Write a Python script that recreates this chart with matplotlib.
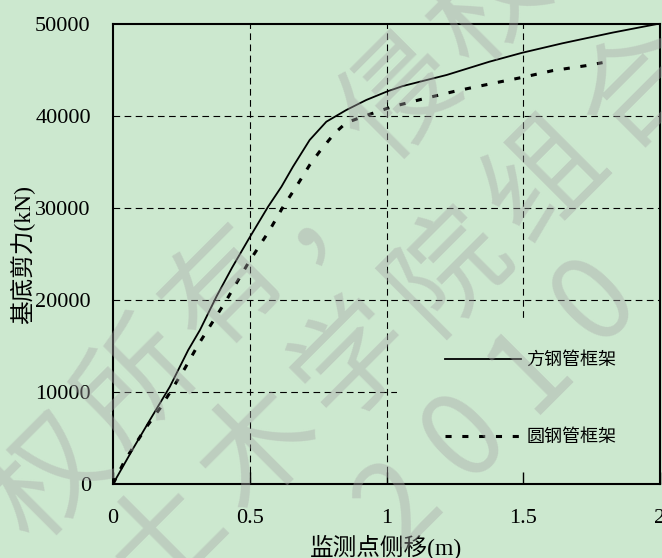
import matplotlib
matplotlib.use("Agg")
import matplotlib.pyplot as plt
from matplotlib.patches import Rectangle

# ---- data ----
square_x = [0, 0.074, 0.135, 0.208, 0.275, 0.318, 0.378, 0.435, 0.494, 0.567, 0.616,
            0.658, 0.719, 0.780, 0.853, 0.926, 1.0, 1.06, 1.22, 1.376, 1.497, 1.643,
            1.826, 1.99]
square_y = [0, 3880, 6960, 10580, 14560, 16740, 20360, 23500, 26520, 30140, 32320,
            34490, 37390, 39380, 40650, 41740, 42640, 43260, 44460, 45900, 46880, 47900,
            49060, 50000]
circle_x = [0, 0.044, 0.123, 0.172, 0.214, 0.263, 0.311, 0.415, 0.494, 0.573, 0.622,
            0.670, 0.719, 0.755, 0.810, 0.853, 0.914, 0.974, 1.02, 1.127, 1.254, 1.400,
            1.497, 1.607, 1.729, 1.79]
circle_y = [0, 2610, 6230, 8230, 10220, 12580, 15110, 20000, 23990, 27610, 30140,
            32320, 34670, 36120, 38120, 39270, 39930, 40550, 41000, 41810, 42720, 43620,
            44200, 44930, 45470, 45800]
series_labels = ["方钢管框架", "圆钢管框架"]
x_ticks = [0, 0.5, 1, 1.5, 2]
x_tick_labels = ["0", "0.5", "1", "1.5", "2"]
y_ticks = [0, 10000, 20000, 30000, 40000, 50000]
y_tick_labels = ["0", "10000", "20000", "30000", "40000", "50000"]
x_label = "监测点侧移(m)"
y_label = "基底剪力(kN)"

BG = "#CCE8CF"
FONT = ["Liberation Serif", "Noto Sans CJK SC"]
plt.rcParams["font.family"] = FONT

W, H = 662, 558
fig = plt.figure(figsize=(W / 100, H / 100), dpi=100, facecolor=BG)
ax = fig.add_axes([113 / W, (H - 484) / H, (660 - 113) / W, (484 - 24) / H])
ax.set_facecolor(BG)

ax.set_xlim(0, 2)
ax.set_ylim(0, 50000)

# dashed grid drawn manually so the legend area can mask it
for yv in y_ticks[1:-1]:
    ax.axhline(yv, color="black", lw=0.8, ls=(0, (6, 4)), zorder=0.5)
for xv in x_ticks[1:-1]:
    ax.axvline(xv, color="black", lw=0.8, ls=(0, (6, 4)), zorder=0.5)
ax.add_patch(Rectangle((0.519, 0.0), 0.481, 0.361, transform=ax.transAxes,
                       facecolor=BG, edgecolor="none", zorder=0.8))

ax.plot(square_x, square_y, color="black", lw=1.3, label=series_labels[0], zorder=2)
ax.plot(circle_x, circle_y, color="black", lw=2.2, ls=(0, (2, 3.5)),
        label=series_labels[1], zorder=2)

ax.set_xticks(x_ticks)
ax.set_xticklabels(x_tick_labels)
ax.set_yticks(y_ticks)
ax.set_yticklabels(y_tick_labels)
ax.tick_params(direction="in", length=9, width=1, labelsize=16, pad=18)
ax.tick_params(axis="y", length=0, pad=16)
for s in ax.spines.values():
    s.set_linewidth(1.5)

ax.set_xlabel(x_label, fontsize=17)
ax.xaxis.set_label_coords(0.5, -0.112)
ax.set_ylabel(y_label, fontsize=17, va="center")
ax.yaxis.set_label_coords(-0.166, 0.5)

leg = ax.legend(loc="upper left", bbox_to_anchor=(0.594, 0.302), frameon=False,
                fontsize=13, handlelength=4.2, handletextpad=0.3, labelspacing=3.3,
                borderaxespad=0)

# faint diagonal watermark
wm_kw = dict(fontsize=84, color="#A8A8A8", alpha=0.4, ha="center", va="center",
             rotation=45, rotation_mode="anchor", family=["Noto Sans CJK SC"],
             zorder=10)
upper = "版权所有，侵权必究"
for i, ch in enumerate(upper):
    px, py = -38 + 88 * i, 575 - 95 * i
    fig.text(px / W, 1 - py / H, ch, **wm_kw)
lower = "大学土木学院组合"
for i, ch in enumerate(lower):
    px, py = -25 + 95 * i, 720 - 90 * i
    fig.text(px / W, 1 - py / H, ch, **wm_kw)
for i, ch in enumerate("2010"):
    px, py = 400 + 65 * i, 505 - 68 * i
    fig.text(px / W, 1 - py / H, ch, **wm_kw)

fig.savefig("out.png", dpi=100, facecolor=BG)
